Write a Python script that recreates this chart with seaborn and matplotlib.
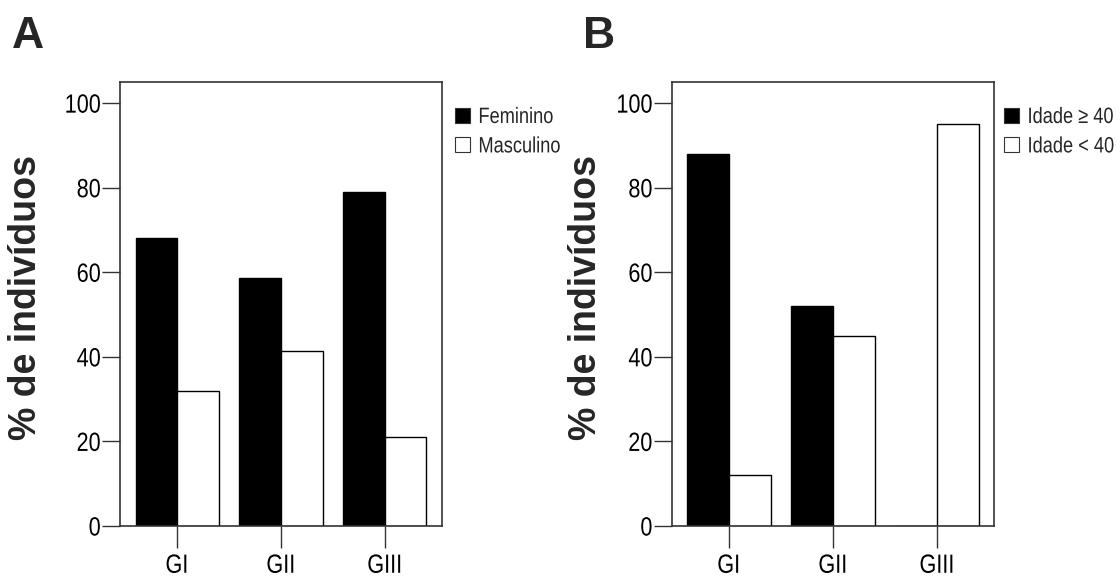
import matplotlib
matplotlib.use("Agg")
import matplotlib.pyplot as plt
from matplotlib import font_manager
from matplotlib.patheffects import AbstractPathEffect
from matplotlib.transforms import Affine2D
import seaborn as sns
import pandas as pd

# ---- data ----
groups = ["GI", "GII", "GIII"]
sex_labels = ["Feminino", "Masculino"]
feminino = [68, 58.6, 79]
masculino = [32, 41.4, 21]
age_labels = ["Idade \u2265 40", "Idade < 40"]
idade_ge40 = [88, 52, 0]
idade_lt40 = [12, 45, 95]
y_ticks = [0, 20, 40, 60, 80, 100]
panel_letters = ["A", "B"]
y_label = "% de indivíduos"

sns.set_theme(style="ticks")
names = {f.name for f in font_manager.fontManager.ttflist}
has_narrow = "Liberation Sans Narrow" in names
narrow = "Liberation Sans Narrow" if has_narrow else "Liberation Sans"
plt.rcParams["font.family"] = [narrow, "DejaVu Sans"]
SX = 1.0 if has_narrow else 0.82


class Squeeze(AbstractPathEffect):
    """Horizontally condense a text (narrow-font look)."""
    def __init__(self, sx, anchor):
        super().__init__()
        self.sx = sx
        self.anchor = anchor

    def draw_path(self, renderer, gc, tpath, affine, rgbFace=None):
        v = tpath.vertices
        x0 = 0.0
        if len(v):
            if self.anchor == "right":
                x0 = v[:, 0].max()
            elif self.anchor == "center":
                x0 = (v[:, 0].min() + v[:, 0].max()) / 2
        t = Affine2D().translate(-x0, 0).scale(self.sx, 1).translate(x0, 0)
        renderer.draw_path(gc, tpath, t + affine, rgbFace)


W, H = 1120, 578
fig = plt.figure(figsize=(W / 100, H / 100), dpi=100)

def px_axes(l, r, t, b):
    return fig.add_axes([l / W, 1 - b / H, (r - l) / W, (b - t) / H])

axA = px_axes(120, 442, 82, 526)
axB = px_axes(671.7, 994.3, 82, 526)

def draw(ax, v1, v2, labels, leg_x):
    df = pd.DataFrame({
        "grupo": groups * 2,
        "serie": [labels[0]] * 3 + [labels[1]] * 3,
        "valor": list(v1) + list(v2),
    })
    sns.barplot(data=df, x="grupo", y="valor", hue="serie", order=groups,
                hue_order=labels, palette=["black", "white"], saturation=1,
                edgecolor="black", linewidth=1, errorbar=None, width=0.8, ax=ax)
    ax.set_xlim(-0.55, 2.55)
    ax.set_ylim(0, 105)
    ax.set_yticks(y_ticks)
    ax.set_yticklabels([str(t) for t in y_ticks])
    ax.set_xlabel("")
    ax.set_ylabel("")
    for s in ax.spines.values():
        s.set_visible(True)
        s.set_color("#333333")
        s.set_linewidth(1.2)
    ax.tick_params(axis="y", length=13, width=1, color="#333333", pad=0.8,
                   labelsize=19, labelcolor="black")
    ax.tick_params(axis="x", length=16, width=1, color="#333333", pad=4,
                   labelsize=19, labelcolor="black")
    for lbl in ax.get_yticklabels():
        lbl.set_path_effects([Squeeze(SX, "right")])
    for lbl in ax.get_xticklabels():
        lbl.set_path_effects([Squeeze(SX, "center")])
    handles, labs = ax.get_legend_handles_labels()
    ax.legend(handles, labs, loc="upper left",
              bbox_to_anchor=(leg_x, 0.9437), frameon=False, fontsize=16,
              borderpad=0, borderaxespad=0, handlelength=0.68,
              handleheight=0.68, handletextpad=0.38, labelspacing=0.38)
    leg = ax.get_legend()
    for h in leg.legend_handles:
        h.set_edgecolor("#333333")
        h.set_linewidth(0.8)
    for t in leg.get_texts():
        t.set_path_effects([Squeeze(SX, "left")])

draw(axA, feminino, masculino, sex_labels, 1.040)
draw(axB, idade_ge40, idade_lt40, age_labels, 1.030)

for x_px, letter in zip([12, 583], panel_letters):
    fig.text(x_px / W, 1 - 48 / H, letter, fontsize=32, fontweight="bold",
             family="Liberation Sans", ha="left", va="baseline")

for x_px in [26, 586]:
    fig.text(x_px / W, 1 - 297.5 / H, y_label, rotation=90, fontsize=27,
             fontweight="bold", family="Liberation Sans", ha="center", va="center")

fig.savefig("out.png", dpi=100)
